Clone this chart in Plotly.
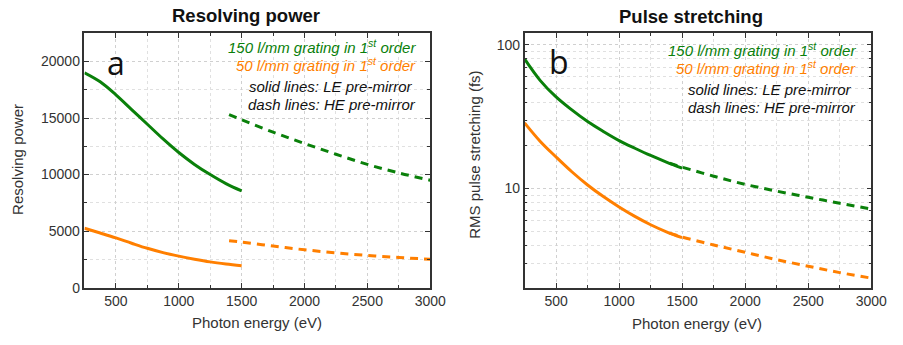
import plotly.graph_objects as go

# ---------------- data ----------------
E_le = [250, 375, 500, 625, 750, 875, 1000, 1125, 1250, 1375, 1500]
E_he = [1400, 1500, 1750, 2000, 2250, 2500, 2750, 3000]

rp150_le = [19000, 18200, 17050, 15750, 14450, 13150, 11950, 10900, 10000, 9200, 8550]
rp50_le = [5250, 4830, 4400, 3930, 3480, 3100, 2790, 2520, 2280, 2090, 1930]
rp150_he = [15300, 14850, 13750, 12750, 11800, 10900, 10150, 9500]
rp50_he = [4150, 4030, 3680, 3350, 3080, 2850, 2670, 2510]

ps150_le = [80, 56.5, 43.5, 35.3, 29.3, 25.0, 21.6, 19.1, 17.0, 15.3, 13.9]
ps50_le = [28.7, 21.3, 16.6, 13.1, 10.6, 8.8, 7.45, 6.4, 5.6, 5.0, 4.55]
ps150_he = [15.0, 14.1, 12.2, 10.7, 9.6, 8.7, 7.9, 7.2]
ps50_he = [4.9, 4.6, 4.05, 3.6, 3.2, 2.88, 2.6, 2.38]

GREEN = "#0a800a"
ORANGE = "#ff7f00"
FONT = "Liberation Sans, Arial, sans-serif"

fig = go.Figure()

def add(x, y, color, dash, xa, ya):
    fig.add_trace(go.Scatter(
        x=x, y=y, mode="lines", xaxis=xa, yaxis=ya, showlegend=False,
        line=dict(color=color, width=3, dash=dash, shape="spline", smoothing=1.0)))

add(E_le, rp150_le, GREEN, "solid", "x", "y")
add(E_he, rp150_he, GREEN, "8px,6px", "x", "y")
add(E_le, rp50_le, ORANGE, "solid", "x", "y")
add(E_he, rp50_he, ORANGE, "8px,6px", "x", "y")

add(E_le, ps150_le, GREEN, "solid", "x2", "y2")
add(E_he, ps150_he, GREEN, "8px,6px", "x2", "y2")
add(E_le, ps50_le, ORANGE, "solid", "x2", "y2")
add(E_he, ps50_he, ORANGE, "8px,6px", "x2", "y2")

W, H = 903, 345
def px(x): return x / W
def py(y): return 1 - y / H

axis_common = dict(
    showline=True, linecolor="#333333", linewidth=1.5, mirror="ticks",
    ticks="inside", ticklen=5, tickwidth=1, tickcolor="#333333",
    showgrid=True, gridcolor="#d0d0d0", griddash="dot", gridwidth=1,
    zeroline=False,
    tickfont=dict(family=FONT, size=14, color="#333333"),
)
minor_common = dict(ticks="inside", ticklen=3, tickcolor="#333333",
                    showgrid=True, gridcolor="#e0e0e0", griddash="dot")

fig.update_layout(
    width=W, height=H,
    margin=dict(l=0, r=0, t=0, b=0),
    paper_bgcolor="white", plot_bgcolor="white",
    font=dict(family=FONT),
    xaxis=dict(domain=[px(86), px(438)], range=[250, 3000], dtick=500, tick0=0,
               tickformat="d", anchor="y",
               minor=dict(dtick=250, **minor_common), **axis_common),
    yaxis=dict(domain=[py(294.5), py(34)], range=[0, 22500], dtick=5000, tick0=0,
               tickformat="d", anchor="x",
               minor=dict(dtick=2500, **minor_common), **axis_common),
    xaxis2=dict(domain=[px(534), px(887)], range=[250, 3000], dtick=500, tick0=0,
                tickformat="d", anchor="y2",
                minor=dict(dtick=250, **minor_common), **axis_common),
    yaxis2=dict(domain=[py(294.5), py(34)], type="log", range=[0.31, 2.082],
                tickvals=[10, 100], anchor="x2",
                minor=dict(tickvals=[3, 4, 5, 6, 7, 8, 9, 20, 30, 40, 50, 60, 70, 80, 90],
                           **minor_common),
                **axis_common),
)

ann = []
def text(x, y, t, size, color="#111111", xanchor="center", bold=False, italic=False,
         family=FONT, angle=0):
    if bold:
        t = "<b>" + t + "</b>"
    if italic:
        t = "<i>" + t + "</i>"
    ann.append(dict(x=px(x), y=py(y), xref="paper", yref="paper", text=t,
                    showarrow=False, xanchor=xanchor, yanchor="middle",
                    textangle=angle,
                    font=dict(family=family, size=size, color=color)))

text(250, 16, "Resolving power", 18.5, bold=True)
text(703, 17, "Pulse stretching", 18.5, bold=True)
text(262, 330, "Photon energy (eV)", 15, color="#333333")
text(710, 331, "Photon energy (eV)", 15, color="#333333")
text(18, 163, "Resolving power", 15, color="#333333", angle=-90)
text(483, 158, "RMS pulse stretching (fs)", 15, color="#333333", angle=-90)

text(118, 64, "a", 32, family="Open Sans, sans-serif")
text(569, 63, "b", 32, family="Open Sans, sans-serif")

lines = [("150 l/mm grating in 1<sup>st</sup> order", GREEN),
         ("50 l/mm grating in 1<sup>st</sup> order", ORANGE),
         ("solid lines: LE pre-mirror", "#111111"),
         ("dash lines: HE pre-mirror", "#111111")]
for (t, c), yl, yr, xl, xr in zip(lines, [47.7, 66, 88.3, 106.7], [50.7, 69.3, 91.7, 110],
                                  [426, 426, 422, 426], [873, 873, 869, 873]):
    text(xl, yl, t, 15, color=c, xanchor="right", italic=True)
    text(xr, yr, t, 15, color=c, xanchor="right", italic=True)

fig.update_layout(annotations=ann)
fig.write_html("out.html")
